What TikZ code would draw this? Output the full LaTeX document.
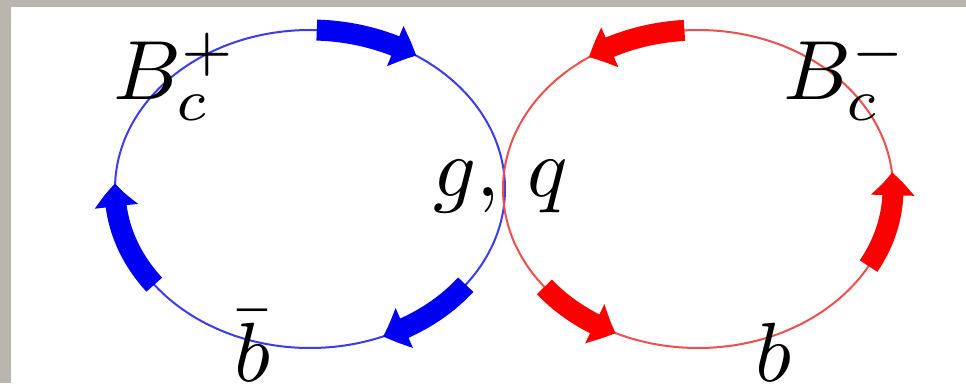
\documentclass[tikz,border=0pt]{standalone}
\usepackage{graphicx}
\usetikzlibrary{arrows.meta,bending}
\definecolor{bgmarble}{RGB}{184,182,175}
\definecolor{bline}{RGB}{60,60,235}
\definecolor{rline}{RGB}{238,80,80}
\definecolor{barrow}{RGB}{0,0,245}
\definecolor{rarrow}{RGB}{250,0,0}
\newcommand{\bigmath}[1]{\scalebox{8.4}{$#1$}}
\tikzset{
  loopline/.style={line width=2pt},
  fatarrow/.style={line width=21pt, -{Triangle[width=42pt,length=23pt,bend]}},
  lbl/.style={inner sep=0pt, anchor=base west}
}
\begin{document}
\begin{tikzpicture}[x=1pt,y=1pt]
\useasboundingbox (0,0) rectangle (966,383);
\fill[bgmarble] (0,0) rectangle (966,383);
\fill[white] (11,0) rectangle (966,376);
% loop centres
\coordinate (bc) at (310,194);
\coordinate (rc) at (698,194);
% loops
\draw[loopline, bline] (bc) ellipse [x radius=195, y radius=159];
\draw[loopline, rline] (rc) ellipse [x radius=195, y radius=159];
% blue arrows (clockwise)
\draw[fatarrow, barrow] ([shift={(88:195 and 159)}]bc) arc[start angle=88, end angle=57, x radius=195, y radius=159];
\draw[fatarrow, barrow] ([shift={(217:195 and 159)}]bc) arc[start angle=217, end angle=178, x radius=195, y radius=159];
\draw[fatarrow, barrow] ([shift={(-37:195 and 159)}]bc) arc[start angle=-37, end angle=-68, x radius=195, y radius=159];
% red arrows (counter-clockwise)
\draw[fatarrow, rarrow] ([shift={(94:195 and 159)}]rc) arc[start angle=94, end angle=124, x radius=195, y radius=159];
\draw[fatarrow, rarrow] ([shift={(-29:195 and 159)}]rc) arc[start angle=-29, end angle=6, x radius=195, y radius=159];
\draw[fatarrow, rarrow] ([shift={(-142:195 and 159)}]rc) arc[start angle=-142, end angle=-115, x radius=195, y radius=159];
% labels
\node[lbl] (bplus) at (113,283) {\bigmath{B_c^+}};
\node[lbl] (bminus) at (783,283) {\bigmath{B_c^-}};
\node[lbl] (gq) at (433,186) {\bigmath{g,\,q}};
\node[lbl] (bbar) at (234,2) {\bigmath{\bar b}};
\node[lbl] (bq) at (755,2) {\bigmath{b}};
\end{tikzpicture}
\end{document}
